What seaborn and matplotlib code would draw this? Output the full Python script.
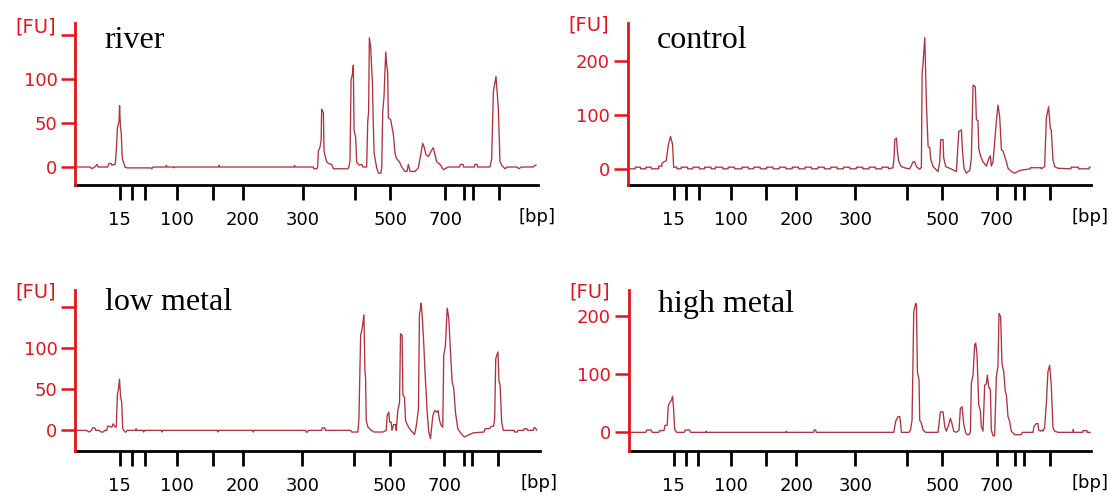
import matplotlib
matplotlib.use("Agg")
import matplotlib.pyplot as plt
import seaborn as sns

# ladder ticks (migration position) and their bp labels
ladder_pos = [111, 122.3, 134.3, 164.3, 197.7, 225.7, 281, 329.3, 362.3, 413.3, 431, 439.3, 463.3]
ladder_lbl = ['15', '', '', '100', '', '200', '300', '', '500', '700', '', '', '']

# traces: (migration position, fluorescence units)
river = [(72,0),(84,0),(85,-2),(88,0),(90,3),(91,0),(100,0),(101,4),(103,4),(104,2),(106,3),(107,3),
         (108,20),(109,45),(110.5,52),(111,70),(111.8,45),(112.5,40),(113.5,10),(115,4),(116,0),(118,-1),
         (140,-1),(141,-2),(142,0),(154,0),(154.5,2),(155,0),(161,0),(161.5,-1),(162,0),(203,0),(203.5,2),
         (204,0),(273,0),(273.5,2),(274,0),(291,0),(291.5,-2),(294,-2),(295,0),(295.6,18),(297,22),(298.2,30),
         (298.7,66),(300.3,62),(300.9,18),(302,12),(303.4,6),(305,4),(308,3),(309.6,-2),(323,-2),(324,0),
         (325,7),(326,99),(327.5,107),(328.1,116),(328.8,42),(330.3,33),(331.2,5),(333,3),(334,2),(336,3),
         (337,0),(340.5,0),(341.5,52),(342.3,63),(343,147),(344.2,137),(345.8,97),(346.7,48),(347.4,16),
         (349.8,-1),(351.4,-7),(353.8,-7),(354.5,0),(355.4,63),(356.6,80),(358.2,131),(359.1,116),(360,109),
         (360.6,56),(362.8,54),(365.3,37),(366.8,16),(368,10),(370.9,6),(373,0),(376.1,-5),(378,-5),(379.2,3),
         (380.8,-5),(385.4,-5),(388.5,-1),(390.7,14),(392.5,27),(393.8,23),(395.6,14),(397.8,12),(400.3,18),
         (402.4,22),(404,14),(405.5,6),(408.6,3),(411.7,-3),(414.8,-1),(416,0),(427,0),(427.5,3),(430,3),
         (430.5,0),(440.5,0),(441,3),(443,3),(443.5,0),(455,0),(456.6,9),(458.2,86),(460.6,103),(462.8,67),
         (464.3,6),(466,2),(469,-2),(471,0),(480,0),(482,-2),(484,0),(495,0),(497,2),(498,2)]

control = [(70,0),(75,0),(75,3),(80,3),(80,0),(85,0),(85,3),(90,3),(90,0),(97,0),(97,5),(100,5),(100,10),
           (102,13),(104,15),(106,44),(108,60),(110,45),(111,3),(114,3),(114,0),(118,0),(118,3),(124,3),
           (124,0),(129,0),(129,3),(135,3),(135,0),(140,0),(140,3),(146,3),(146,0),(150,0),(150,3),(157,3),
           (157,0),(162,0),(162,3),(168,3),(168,0),(175,0),(175,3),(181,3),(181,0),(186,0),(186,3),(192,3),
           (192,0),(198,0),(198,3),(204,3),(204,0),(210,0),(210,3),(216,3),(216,0),(222,0),(222,3),(228,3),
           (228,0),(234,0),(234,3),(240,3),(240,0),(246,0),(246,3),(252,3),(252,0),(258,0),(258,3),(264,3),
           (264,0),(270,0),(270,3),(276,3),(276,0),(282,0),(282,3),(288,3),(288,0),(294,0),(294,3),(300,3),
           (300,0),(306,0),(306,3),(312,3),(312,0),(316.4,2),(317.4,23),(318,54),(319.6,57),(320.5,32),
           (321.7,14),(324.2,4),(328.9,1),(332,0),(335.2,13),(336.7,13),(338.3,4),(341.4,-1),(342.9,3),
           (343.6,177),(344.5,196),(346.1,243),(346.7,193),(347.6,122),(349.2,41),(350.7,39),(351.7,17),
           (353.9,4),(358.5,-5),(360.1,13),(361,54),(363.2,54),(363.8,20),(365.7,4),(369.4,1),(375.7,-5),
           (377.9,69),(380.4,72),(381.3,35),(382.8,1),(385,-8),(388.2,-3),(389.7,20),(391.3,155),(393.4,152),
           (394.4,91),(395.9,89),(396.6,38),(398.4,23),(400.6,13),(403.7,5),(406.2,20),(407.5,24),(408.4,5),
           (410,13),(413.1,88),(414.6,118),(416.2,97),(417.8,35),(419.3,33),(420.9,23),(422.5,13),(424,1),
           (427.1,-5),(430.2,-8),(433.4,-5),(434.9,-3),(445,0),(445,2),(455,2),(455,0),(458.3,4),(459.9,94),
           (462,115),(463.6,75),(464.5,72),(466.1,17),(467.7,4),(470.8,1),(483,0),(483,3),(490,3),(490,0),
           (500,0),(500,3),(501,3)]

low_metal = [(70,0),(80,0),(83,-2),(85,0),(86,3),(88,3),(89,0),(92,0),(94,-2),(96,-2),(97,0),(99,0),(100,5),
             (102,5),(103,4),(104,4),(105,8),(106,6),(107,4),(108,4),(109,43),(110,50),(111,62),(112,40),
             (113,35),(114,2),(115,0),(116,-2),(117,-2),(118,0),(126,0),(126.5,2),(127,0),(133,0),(133.5,-2),
             (134,0),(150,0),(150.5,-2),(151,0),(202,0),(202.5,-2),(203,0),(235,0),(235.5,-2),(236,0),(284,0),
             (284.5,-2),(286,-2),(286.5,0),(299,0),(299.5,3),(302,3),(302.5,0),(326,0),(327,-2),(330,-2),
             (332.8,-2),(333.7,14),(335.3,115),(336.8,124),(338.4,140),(339.2,75),(339.9,63),(340.5,12),
             (342.1,4),(345.2,0),(348,-2),(356,-2),(359.1,0),(360,18),(361.6,22),(362.2,10),(363.7,10),
             (364.4,0),(365.9,7),(367.8,7),(368.4,0),(369.9,24),(371.5,34),(372.4,117),(373.9,115),(374.6,43),
             (376.1,40),(377.1,12),(378.6,7),(380.8,2),(385.4,-5),(386.9,4),(389.1,26),(390,140),(391,148),
             (391.6,154),(392.5,140),(393.8,111),(395.3,67),(396.2,47),(397.2,22),(398.7,-2),(400.3,-10),
             (402.5,18),(404.3,24),(406.2,22),(407.4,24),(408.7,12),(410.2,6),(411.7,4),(412.6,91),(414.2,103),
             (415.8,148),(417.3,136),(418.8,97),(420.4,59),(421.9,51),(423.5,22),(425.7,2),(428.8,-4),
             (431.8,-8),(435,-6),(440,-3),(450,-2),(451,2),(455,2),(457,5),(459,5),(460,15),(461,87),(463,95),
             (464,60),(465,55),(466.5,10),(468,0),(478,0),(478.5,-2),(481,-2),(481.5,0),(487,0),(487.5,2),
             (490,2),(490.5,0),(496,0),(496.5,3),(498,3),(499,0)]

high_metal = [(70,0),(85,0),(86,4),(90,4),(91,0),(97,0),(98,3),(102,3),(103,12),(105,12),(106,45),(107,50),
              (109,55),(110,62),(111,40),(112,5),(114,0),(121,0),(122,4),(126,4),(127,0),(141,0),(141.5,2),
              (142,0),(216,0),(216.5,2),(217,0),(242,0),(242.5,4),(244,4),(244.5,0),(317,0),(318.9,19),
              (321.1,27),(322.7,27),(323.6,13),(324.2,0),(331.4,0),(332.7,4),(334.2,21),(335.8,207),(337.6,221),
              (338.3,219),(339.2,104),(340.7,90),(341.4,21),(343,15),(344.5,4),(347,0),(358.5,0),(360.7,35),
              (363.2,35),(364.8,10),(366.3,2),(368.8,15),(370.1,24),(371.6,15),(373.2,2),(375.7,0),(378.2,4),
              (379.4,41),(381,44),(382.5,15),(384.4,-1),(385.7,-4),(387.5,-4),(388.8,0),(389.7,84),(391.3,98),
              (392.8,150),(393.8,153),(395,133),(396.6,47),(398.1,38),(399,10),(400.6,2),(402.2,81),(403.7,83),
              (404.7,98),(405.9,78),(407.5,73),(408.4,4),(410,-6),(411.5,-6),(413.1,95),(414.6,113),(415.6,204),
              (417.1,198),(418.4,118),(420,104),(421.5,70),(422.5,64),(424,27),(425.6,18),(427.1,2),(428.7,-1),
              (430.2,-4),(436.5,-4),(437.4,0),(447.4,0),(448.3,10),(450.5,15),(452.1,15),(452.7,4),(454.3,2),
              (455.8,4),(456.7,2),(458.3,8),(459.9,50),(461.4,104),(463,115),(464.5,81),(466.1,8),(467.7,2),
              (470.8,0),(485,0),(485.1,5),(485.5,0),(494,0),(494.1,3),(497.9,3),(498,0),(501,0)]

samples = ['river', 'control', 'low metal', 'high metal']
traces = [river, control, low_metal, high_metal]
y_ticks = [[0, 50, 100, 150], [0, 100, 200], [0, 50, 100, 150], [0, 100, 200]]
y_tick_lbl = [['0', '50', '100', ''], ['0', '100', '200'], ['0', '50', '100', ''], ['0', '100', '200']]

sns.set_style('white')
plt.rcParams['font.family'] = ['DejaVu Sans']

# panel layout in figure fractions, y limits per panel
boxes = [[0.0679, 0.627, 0.4167, 0.3266], [0.5653, 0.627, 0.4167, 0.3266],
         [0.0679, 0.0907, 0.418, 0.3246], [0.5662, 0.0907, 0.4158, 0.3246]]
xlims = [(70, 500), (68.3, 501.7), (70, 502), (69.3, 501.7)]
ylims = [(-20.5, 164), (-30, 270), (-25, 170), (-32, 244)]
title_y = [0.844, 0.848, 0.876, 0.861]
fu_y = [0.975, 0.985, 0.985, 0.985]

line_col = '#b0323c'
axis_red = '#e3141c'

fig = plt.figure(figsize=(11.11, 4.96), dpi=100)
for i, name in enumerate(samples):
    ax = fig.add_axes(boxes[i])
    xs, ys = zip(*traces[i])
    sns.lineplot(x=list(xs), y=list(ys), sort=False, estimator=None, ax=ax,
                 color=line_col, linewidth=0.95)
    ax.set_xlim(*xlims[i])
    ax.set_ylim(*ylims[i])

    for s in ['top', 'right']:
        ax.spines[s].set_visible(False)
    ax.spines['left'].set_color(axis_red)
    ax.spines['left'].set_linewidth(2)
    ax.spines['left'].set_zorder(5)
    ax.spines['bottom'].set_color('black')
    ax.spines['bottom'].set_linewidth(2)

    ax.set_xticks(ladder_pos)
    ax.set_xticklabels(ladder_lbl)
    ax.set_yticks(y_ticks[i])
    ax.set_yticklabels(y_tick_lbl[i])
    ax.tick_params(axis='y', direction='out', length=10, width=1.8, color=axis_red,
                   labelcolor=axis_red, labelsize=13, pad=3, left=True)
    ax.tick_params(axis='x', direction='out', length=11, width=2, color='black',
                   labelcolor='black', labelsize=13, pad=8, bottom=True)
    ax.set_xlabel('')
    ax.set_ylabel('')

    ax.text(0.063, title_y[i], name, transform=ax.transAxes, fontsize=23,
            family='Liberation Serif', va='baseline', ha='left', color='black')
    ax.text(-0.042, fu_y[i], '[FU]', transform=ax.transAxes, fontsize=14,
            color=axis_red, ha='right', va='center')
    ax.text(1.037, -0.2, '[bp]', transform=ax.transAxes, fontsize=13,
            color='black', ha='right', va='center')

fig.savefig('out.png', dpi=100)
